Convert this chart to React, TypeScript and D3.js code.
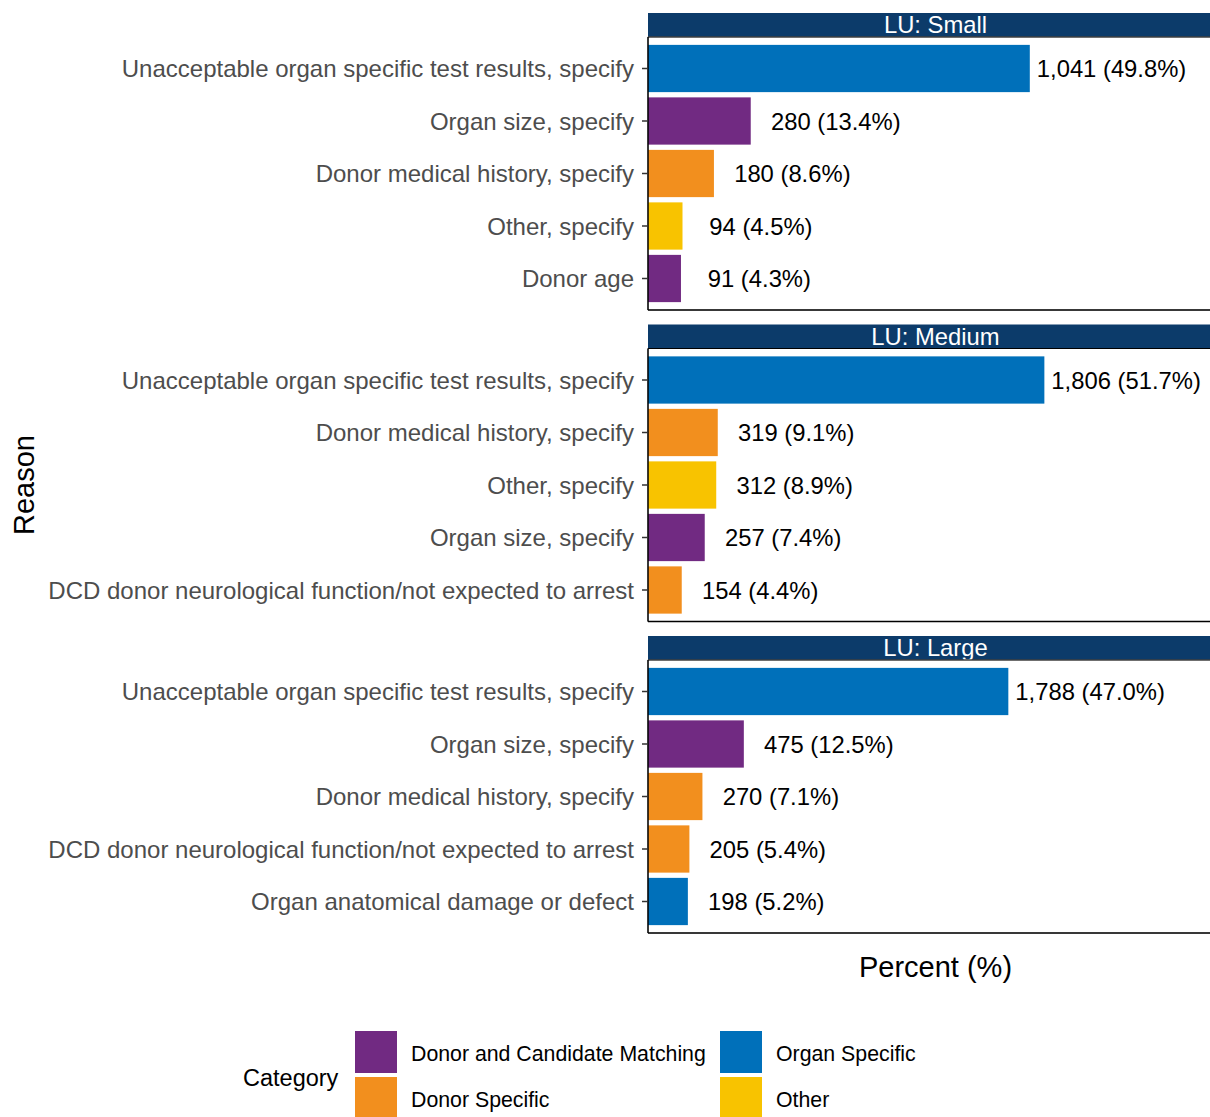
import React from "react";
import * as d3 from "d3";

const panels = ["LU: Small", "LU: Medium", "LU: Large"];

const smallReasons = [
  "Unacceptable organ specific test results, specify",
  "Organ size, specify",
  "Donor medical history, specify",
  "Other, specify",
  "Donor age",
];
const smallCounts = [1041, 280, 180, 94, 91];
const smallPct = [49.8, 13.4, 8.6, 4.5, 4.3];
const smallCats = ["Organ Specific", "Donor and Candidate Matching", "Donor Specific", "Other", "Donor and Candidate Matching"];

const mediumReasons = [
  "Unacceptable organ specific test results, specify",
  "Donor medical history, specify",
  "Other, specify",
  "Organ size, specify",
  "DCD donor neurological function/not expected to arrest",
];
const mediumCounts = [1806, 319, 312, 257, 154];
const mediumPct = [51.7, 9.1, 8.9, 7.4, 4.4];
const mediumCats = ["Organ Specific", "Donor Specific", "Other", "Donor and Candidate Matching", "Donor Specific"];

const largeReasons = [
  "Unacceptable organ specific test results, specify",
  "Organ size, specify",
  "Donor medical history, specify",
  "DCD donor neurological function/not expected to arrest",
  "Organ anatomical damage or defect",
];
const largeCounts = [1788, 475, 270, 205, 198];
const largePct = [47.0, 12.5, 7.1, 5.4, 5.2];
const largeCats = ["Organ Specific", "Donor and Candidate Matching", "Donor Specific", "Donor Specific", "Organ Specific"];

const categories = ["Donor and Candidate Matching", "Donor Specific", "Organ Specific", "Other"];
const catColors = ["#712A82", "#F28F1E", "#0070BA", "#F8C300"];

const panelData = [
  { reasons: smallReasons, counts: smallCounts, pct: smallPct, cats: smallCats },
  { reasons: mediumReasons, counts: mediumCounts, pct: mediumPct, cats: mediumCats },
  { reasons: largeReasons, counts: largeCounts, pct: largePct, cats: largeCats },
];

const W = 1210;
const H = 1117;
const FONT = "'Liberation Sans', Arial, Helvetica, sans-serif";

export default function App() {
  React.useEffect(() => {
    document.body.style.margin = "0";
  }, []);

  const x = d3.scaleLinear().domain([0, 75]).range([648, 1223]);
  const color = d3.scaleOrdinal<string, string>().domain(categories).range(catColors);
  const panelTop0 = 37;
  const panelH = 273;
  const panelGap = 311.5;
  const stripH = 24;
  const fs = 24;

  // format counts padded to a common width, like R's format()
  const allCounts = [...smallCounts, ...mediumCounts, ...largeCounts];
  const fmt = d3.format(",");
  const maxLen = d3.max(allCounts, (c) => fmt(c).length) as number;
  const label = (c: number, p: number) =>
    " ".repeat(maxLen - fmt(c).length) + fmt(c) + " (" + p.toFixed(1) + "%)";

  const xLeft = x(0);
  const xRight = x.range()[1];

  return (
    <svg
      width={W}
      height={H}
      style={{ position: "absolute", left: 0, top: 0, overflow: "hidden", background: "#fff" }}
      fontFamily={FONT}
    >
      <rect x={0} y={0} width={W} height={H} fill="#fff" />
      {panelData.map((pd, pi) => {
        const top = panelTop0 + pi * panelGap;
        const bottom = top + panelH;
        const y = d3
          .scaleBand<string>()
          .domain(pd.reasons)
          .range([top, bottom])
          .paddingInner(0.1)
          .paddingOuter(0.15);
        return (
          <g key={pi}>
            {/* strip */}
            <rect x={xLeft} y={top - stripH} width={xRight - xLeft} height={stripH} fill="#0C3B6A" />
            <text
              x={(xLeft + xRight) / 2}
              y={top - stripH / 2 + 8}
              textAnchor="middle"
              fill="#ffffff"
              fontSize={23.8}
            >
              {panels[pi]}
            </text>
            {/* panel border */}
            <rect x={xLeft} y={top} width={xRight - xLeft} height={panelH} fill="none" stroke="#BDBDBD" strokeWidth={1} />
            <line x1={xLeft} x2={xRight} y1={top} y2={top} stroke="#000" strokeWidth={1} />
            {/* bars */}
            {pd.reasons.map((r, i) => (
              <rect
                key={r}
                x={x(0)}
                y={y(r)!}
                width={x(pd.pct[i]) - x(0)}
                height={y.bandwidth()}
                fill={color(pd.cats[i])}
              />
            ))}
            {/* value labels */}
            {pd.reasons.map((r, i) => (
              <text
                key={"l" + r}
                x={x(pd.pct[i]) + 7}
                y={y(r)! + y.bandwidth() / 2 + 8.5}
                fontSize={23.8}
                fill="#000"
                xmlSpace="preserve"
                style={{ whiteSpace: "pre" }}
              >
                {label(pd.counts[i], pd.pct[i])}
              </text>
            ))}
            {/* axes */}
            <line x1={xLeft} x2={xLeft} y1={top} y2={bottom} stroke="#000" strokeWidth={1.5} />
            <line x1={xLeft} x2={xRight} y1={bottom} y2={bottom} stroke="#000" strokeWidth={1.5} />
            {pd.reasons.map((r) => (
              <g key={"t" + r}>
                <line
                  x1={xLeft - 6}
                  x2={xLeft}
                  y1={y(r)! + y.bandwidth() / 2}
                  y2={y(r)! + y.bandwidth() / 2}
                  stroke="#333"
                  strokeWidth={1.5}
                />
                <text
                  x={xLeft - 14}
                  y={y(r)! + y.bandwidth() / 2 + 8.5}
                  textAnchor="end"
                  fontSize={fs}
                  fill="#4D4D4D"
                >
                  {r}
                </text>
              </g>
            ))}
          </g>
        );
      })}
      {/* axis titles */}
      <text x={(xLeft + xRight) / 2} y={977} textAnchor="middle" fontSize={29} fill="#000">
        Percent (%)
      </text>
      <text
        transform={`translate(34, ${(panelTop0 + panelTop0 + 2 * panelGap + panelH) / 2}) rotate(-90)`}
        textAnchor="middle"
        fontSize={29}
        fill="#000"
      >
        Reason
      </text>
      {/* legend */}
      <text x={243} y={1086} fontSize={23.5} fill="#000">
        Category
      </text>
      {categories.map((c, i) => {
        const col = Math.floor(i / 2);
        const row = i % 2;
        const kx = 355 + col * 365;
        const ky = 1031 + row * 46;
        return (
          <g key={c}>
            <rect x={kx} y={ky} width={42} height={42} fill={color(c)} />
            <text x={kx + 56} y={ky + 29.5} fontSize={21.3} fill="#000">
              {c}
            </text>
          </g>
        );
      })}
    </svg>
  );
}
